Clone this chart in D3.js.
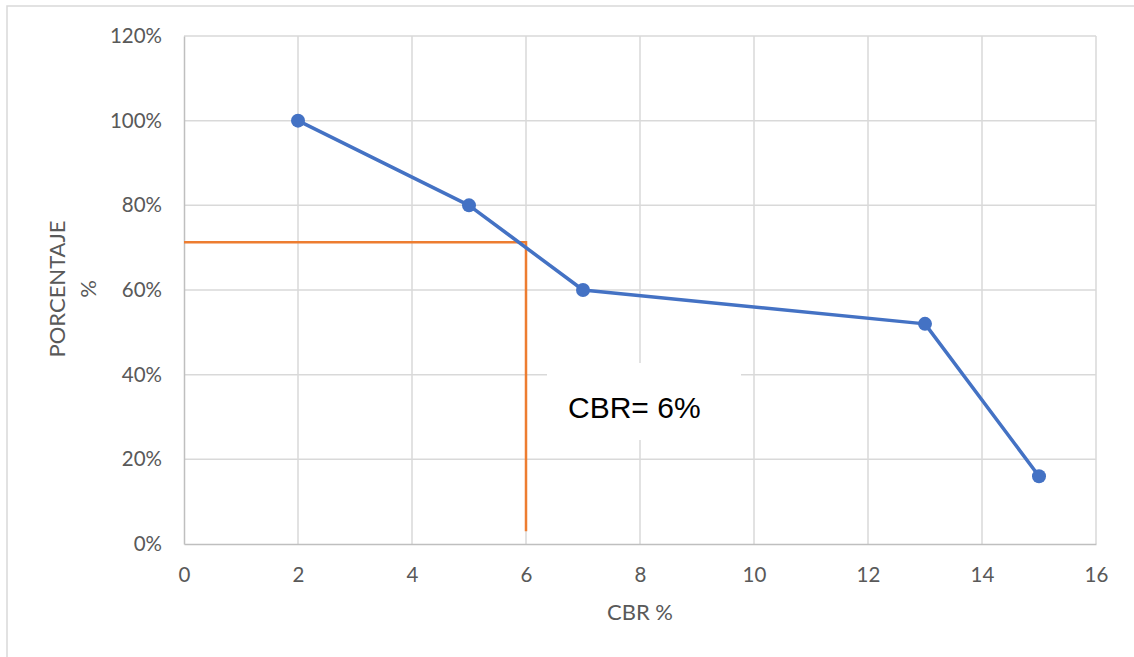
<!DOCTYPE html>
<html><head><meta charset="utf-8">
<script src="https://cdn.jsdelivr.net/npm/d3@7"></script>
<style>
html,body{margin:0;padding:0;background:#fff;}
text{font-family:Lato,"Liberation Sans",sans-serif;}
</style></head>
<body>
<svg id="c" width="1134" height="657"></svg>
<script>
const cbr = [2, 5, 7, 13, 15];
const porcentaje = [1.00, 0.80, 0.60, 0.52, 0.16];
const xTicks = [0, 2, 4, 6, 8, 10, 12, 14, 16];
const yTicks = [0, 0.2, 0.4, 0.6, 0.8, 1.0, 1.2];
const guideX = [0, 6, 6];
const guideY = [0.713, 0.713, 0.03];
const annotation = "CBR= 6%";
const xTitle = "CBR %";
const yTitleLines = ["PORCENTAJE", "%"];

const svg = d3.select("#c");
const x = d3.scaleLinear().domain([0, 16]).range([184, 1096]);
const y = d3.scaleLinear().domain([0, 1.2]).range([544, 36]);

// outer border
svg.append("rect").attr("x", 7).attr("y", 6).attr("width", 1140).attr("height", 700)
  .attr("fill", "#fff").attr("stroke", "#d9d9d9").attr("stroke-width", 1.5);

// gridlines
svg.append("g").selectAll("line").data(xTicks.slice(1)).join("line")
  .attr("x1", d => x(d)).attr("x2", d => x(d)).attr("y1", y(1.2)).attr("y2", y(0))
  .attr("stroke", "#d9d9d9").attr("stroke-width", 1.5);
svg.append("g").selectAll("line").data(yTicks.slice(1)).join("line")
  .attr("x1", x(0)).attr("x2", x(16)).attr("y1", d => y(d)).attr("y2", d => y(d))
  .attr("stroke", "#d9d9d9").attr("stroke-width", 1.5);

// axes
const xAxis = d3.axisBottom(x).tickValues(xTicks).tickSize(0).tickPadding(23).tickFormat(d3.format("d"));
const gx = svg.append("g").attr("transform", `translate(0,${y(0)})`).call(xAxis);
gx.select(".domain").attr("stroke", "#bfbfbf").attr("stroke-width", 1.5);
gx.selectAll("text").attr("fill", "#595959").style("font-size", "20.5px").attr("dy", "0.71em");

const yAxis = d3.axisLeft(y).tickValues(yTicks).tickSize(0).tickPadding(22).tickFormat(d3.format(".0%"));
const gy = svg.append("g").attr("transform", `translate(${x(0)},0)`).call(yAxis);
gy.select(".domain").attr("stroke", "#bfbfbf").attr("stroke-width", 1.5);
gy.selectAll("text").attr("fill", "#595959").style("font-size", "20.5px");

// orange guide
svg.append("path")
  .attr("d", d3.line().x((d, i) => x(guideX[i])).y((d, i) => y(guideY[i]))(guideX))
  .attr("fill", "none").attr("stroke", "#ED7D31").attr("stroke-width", 2.5);

// series line
const pts = cbr.map((c, i) => [c, porcentaje[i]]);
svg.append("path")
  .attr("d", d3.line().x(d => x(d[0])).y(d => y(d[1]))(pts))
  .attr("fill", "none").attr("stroke", "#4472C4").attr("stroke-width", 3.5)
  .attr("stroke-linejoin", "round");
svg.append("g").selectAll("circle").data(pts).join("circle")
  .attr("cx", d => x(d[0])).attr("cy", d => y(d[1])).attr("r", 7)
  .attr("fill", "#4472C4");

// annotation box
svg.append("rect").attr("x", 547).attr("y", 363).attr("width", 194).attr("height", 77).attr("fill", "#fff");
svg.append("text").attr("x", 568).attr("y", 418).text(annotation)
  .style("font-family", "'Liberation Sans',Arial,sans-serif").style("font-size", "30px").attr("fill", "#000");

// axis titles
svg.append("text").attr("x", 640).attr("y", 620).attr("text-anchor", "middle")
  .attr("fill", "#595959").style("font-size", "22px").text(xTitle);
const yt = svg.append("g");
yTitleLines.forEach((t, i) => {
  yt.append("text").attr("transform", `translate(${65 + i * 31},289) rotate(-90)`)
    .attr("text-anchor", "middle").attr("fill", "#595959").style("font-size", "22px").text(t);
});
</script>
</body></html>
